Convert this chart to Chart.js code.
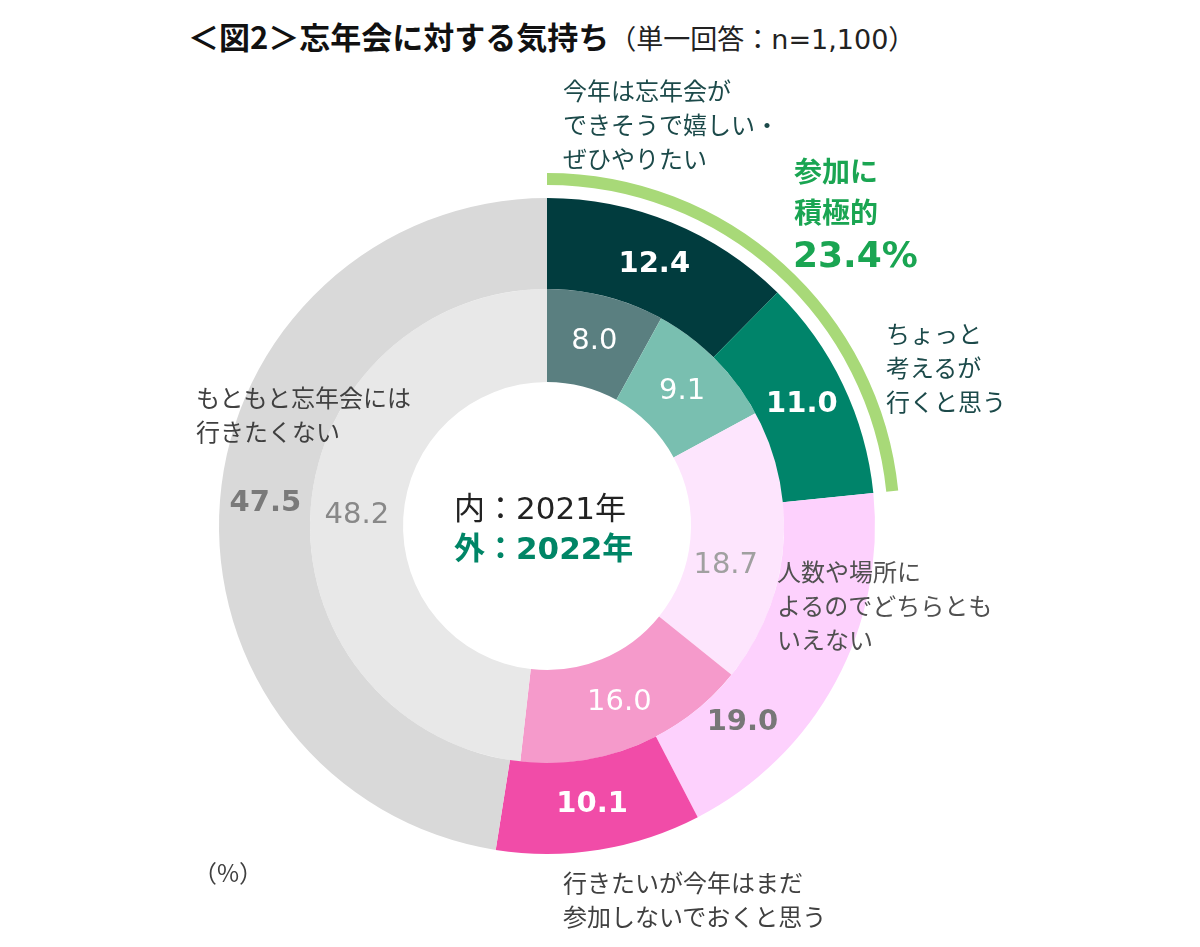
<!DOCTYPE html>
<html>
<head>
<meta charset="utf-8">
<script src="https://cdn.jsdelivr.net/npm/chart.js@4/dist/chart.umd.min.js"></script>
<style>
  body { margin: 0; background: #fff; }
  #page { position: relative; width: 1200px; height: 947px; overflow: hidden; font-family: "Noto Sans CJK JP", sans-serif; }
  .t { position: absolute; white-space: nowrap; }
  .lbl { font-size: 24px; line-height: 34px; color: #404040; }
  .teal { color: #1c4a4a; }
  #chartBox { position: absolute; left: 194px; top: 173px; width: 706px; height: 706px; }
</style>
</head>
<body>
<div id="page">
  <div class="t" style="left:188px;top:14px;font-size:31px;line-height:44px;font-weight:bold;color:#111;">＜図2＞忘年会に対する気持ち<span style="font-weight:normal;font-size:27px;color:#222;font-family:'DejaVu Sans','Noto Sans CJK JP',sans-serif;">（単一回答：n=1,100）</span></div>

  <div id="chartBox"><canvas id="chart" width="706" height="706"></canvas></div>

  <div class="t lbl teal" style="left:563px;top:73px;">今年は忘年会が<br>できそうで嬉しい・<br>ぜひやりたい</div>
  <div class="t" style="left:794px;top:150px;font-size:28px;line-height:41px;font-weight:bold;color:#1aa552;">参加に<br>積極的</div>
  <div class="t" style="left:793px;top:233px;font-size:36px;line-height:44px;font-weight:bold;color:#1aa552;font-family:'DejaVu Sans',sans-serif;">23.4%</div>
  <div class="t lbl teal" style="left:886px;top:316px;">ちょっと<br>考えるが<br>行くと思う</div>
  <div class="t lbl" style="left:196px;top:380px;">もともと忘年会には<br>行きたくない</div>
  <div class="t lbl" style="left:777px;top:554px;color:#505050;">人数や場所に<br>よるのでどちらとも<br>いえない</div>
  <div class="t lbl" style="left:563px;top:865px;">行きたいが今年はまだ<br>参加しないでおくと思う</div>
  <div class="t lbl" style="left:193px;top:855px;">（%）</div>

  <div class="t" style="left:454px;top:487px;font-size:31px;line-height:42px;color:#222;font-family:'DejaVu Sans','Noto Sans CJK JP',sans-serif;">内：2021年</div>
  <div class="t" style="left:454px;top:527px;font-size:31px;line-height:42px;color:#008566;font-weight:bold;font-family:'DejaVu Sans','Noto Sans CJK JP',sans-serif;">外：2022年</div>
</div>

<script>
// categories (clockwise from the top)
const categories = [
  "今年は忘年会ができそうで嬉しい・ぜひやりたい",
  "ちょっと考えるが行くと思う",
  "人数や場所によるのでどちらともいえない",
  "行きたいが今年はまだ参加しないでおくと思う",
  "もともと忘年会には行きたくない"
];
// outer ring: 2022, inner ring: 2021 (%)
const values2022 = [12.4, 11.0, 19.0, 10.1, 47.5];
const values2021 = [8.0, 9.1, 18.7, 16.0, 48.2];

const colors2022 = ["#013c3e", "#00846a", "#fdd1fd", "#f14ca8", "#d9d9d9"];
const colors2021 = ["#5a7f80", "#79bfb0", "#fde5fd", "#f59acb", "#e8e8e8"];

// "参加に積極的" = first two answers of 2022
const positive2022 = values2022[0] + values2022[1];

// label styles per ring
const labelStyle = {
  2: { font: "bold 29px 'DejaVu Sans'", colors: ["#fff", "#fff", "#777", "#fff", "#7a7a7a"] },
  3: { font: "29px 'DejaVu Sans'", colors: ["#fff", "#fff", "#a0a0a0", "#fff", "#888"] }
};
// small nudges where the original moved a label off its centroid
const nudge = { "2-2": [-53, 62], "3-2": [-11, 22] };

const valueLabels = {
  id: "valueLabels",
  afterDatasetsDraw(chart) {
    const ctx = chart.ctx;
    ctx.save();
    ctx.textAlign = "center";
    ctx.textBaseline = "middle";
    [2, 3].forEach((di) => {
      const meta = chart.getDatasetMeta(di);
      const ds = chart.data.datasets[di];
      ctx.font = labelStyle[di].font;
      meta.data.forEach((arc, i) => {
        const p = arc.tooltipPosition();
        const n = nudge[di + "-" + i] || [0, 0];
        ctx.fillStyle = labelStyle[di].colors[i];
        ctx.fillText(ds.data[i].toFixed(1), p.x + n[0], p.y + n[1]);
      });
    });
    ctx.restore();
  }
};

new Chart(document.getElementById("chart"), {
  type: "doughnut",
  data: {
    labels: categories,
    datasets: [
      { data: [positive2022, 100 - positive2022], backgroundColor: ["#a8d978", "rgba(0,0,0,0)"], weight: 12 },
      { data: [100], backgroundColor: ["rgba(0,0,0,0)"], weight: 13 },
      { label: "2022", data: values2022, backgroundColor: colors2022, weight: 91 },
      { label: "2021", data: values2021, backgroundColor: colors2021, weight: 93 }
    ]
  },
  options: {
    responsive: false,
    animation: false,
    cutout: 144,
    borderWidth: 0,
    layout: { padding: 0 },
    plugins: {
      legend: { display: false },
      tooltip: { enabled: false }
    },
    elements: { arc: { borderWidth: 0, hoverOffset: 0 } }
  },
  plugins: [valueLabels]
});
</script>
</body>
</html>
